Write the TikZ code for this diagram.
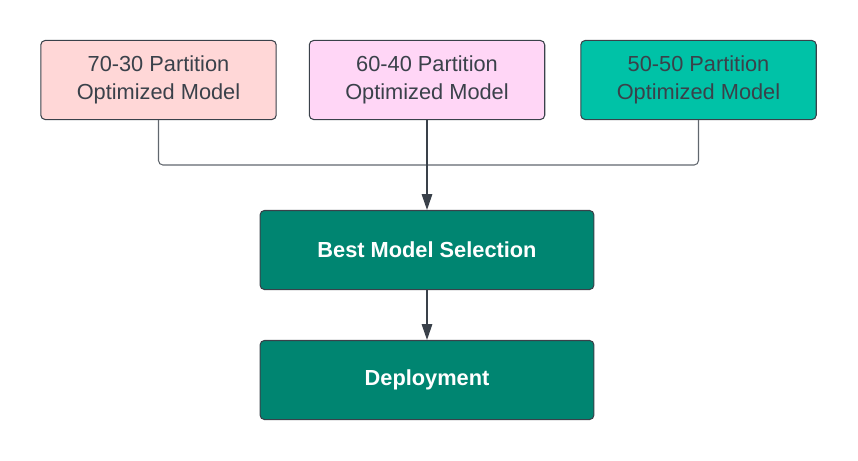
\documentclass[tikz,border=0pt]{standalone}
\usepackage{fontspec}
\setmainfont{Liberation Sans}
\usetikzlibrary{arrows.meta}

\definecolor{pinkbox}{HTML}{FFD7D7}
\definecolor{lilacbox}{HTML}{FFD6F6}
\definecolor{tealbox}{HTML}{00C2A7}
\definecolor{darkteal}{HTML}{008571}
\definecolor{edgegrey}{HTML}{3A414A}
\definecolor{textgrey}{HTML}{3A414A}

\tikzset{
    modelbox/.style={draw=edgegrey, line width=0.6pt, rounded corners=2.5pt,
        minimum width=134pt, minimum height=45pt, align=center,
        font=\fontsize{12.4}{15.9}\selectfont, text=textgrey},
    stagebox/.style={draw=edgegrey, line width=0.6pt, rounded corners=2.5pt,
        fill=darkteal, minimum width=190pt, minimum height=45pt,
        font=\fontsize{12.4}{15}\selectfont\bfseries, text=white},
    link/.style={draw=edgegrey!80, line width=0.6pt, rounded corners=2.5pt},
    flow/.style={draw=edgegrey, line width=0.7pt,
        -{Triangle[length=9pt, width=6pt]}}
}

\begin{document}
\begin{tikzpicture}[x=0.02cm, y=-0.02cm]

    % Fix the page to the size of the reference
    \useasboundingbox (0,0) rectangle (858,460);

    % The three partition models on top
    \node[modelbox, fill=pinkbox] (m70) at (158.5,80) {70-30 Partition\\Optimized Model};
    \node[modelbox, fill=lilacbox] (m60) at (427,80) {60-40 Partition\\Optimized Model};
    \node[modelbox, fill=tealbox] (m50) at (698.5,80) {50-50 Partition\\Optimized Model};

    % The selection and deployment stages
    \node[stagebox] (best) at (427,250) {Best Model Selection};
    \node[stagebox] (deploy) at (427,380) {Deployment};

    % Point where the side models join the middle line
    \coordinate (join) at (427,165);

    % Side models run down and into the middle line
    \draw[link] (m70.south) |- (join);
    \draw[link] (m50.south) |- (join);

    % Middle line and the last step carry the arrows
    \draw[flow] (m60.south) -- (best.north);
    \draw[flow] (best.south) -- (deploy.north);

\end{tikzpicture}
\end{document}
